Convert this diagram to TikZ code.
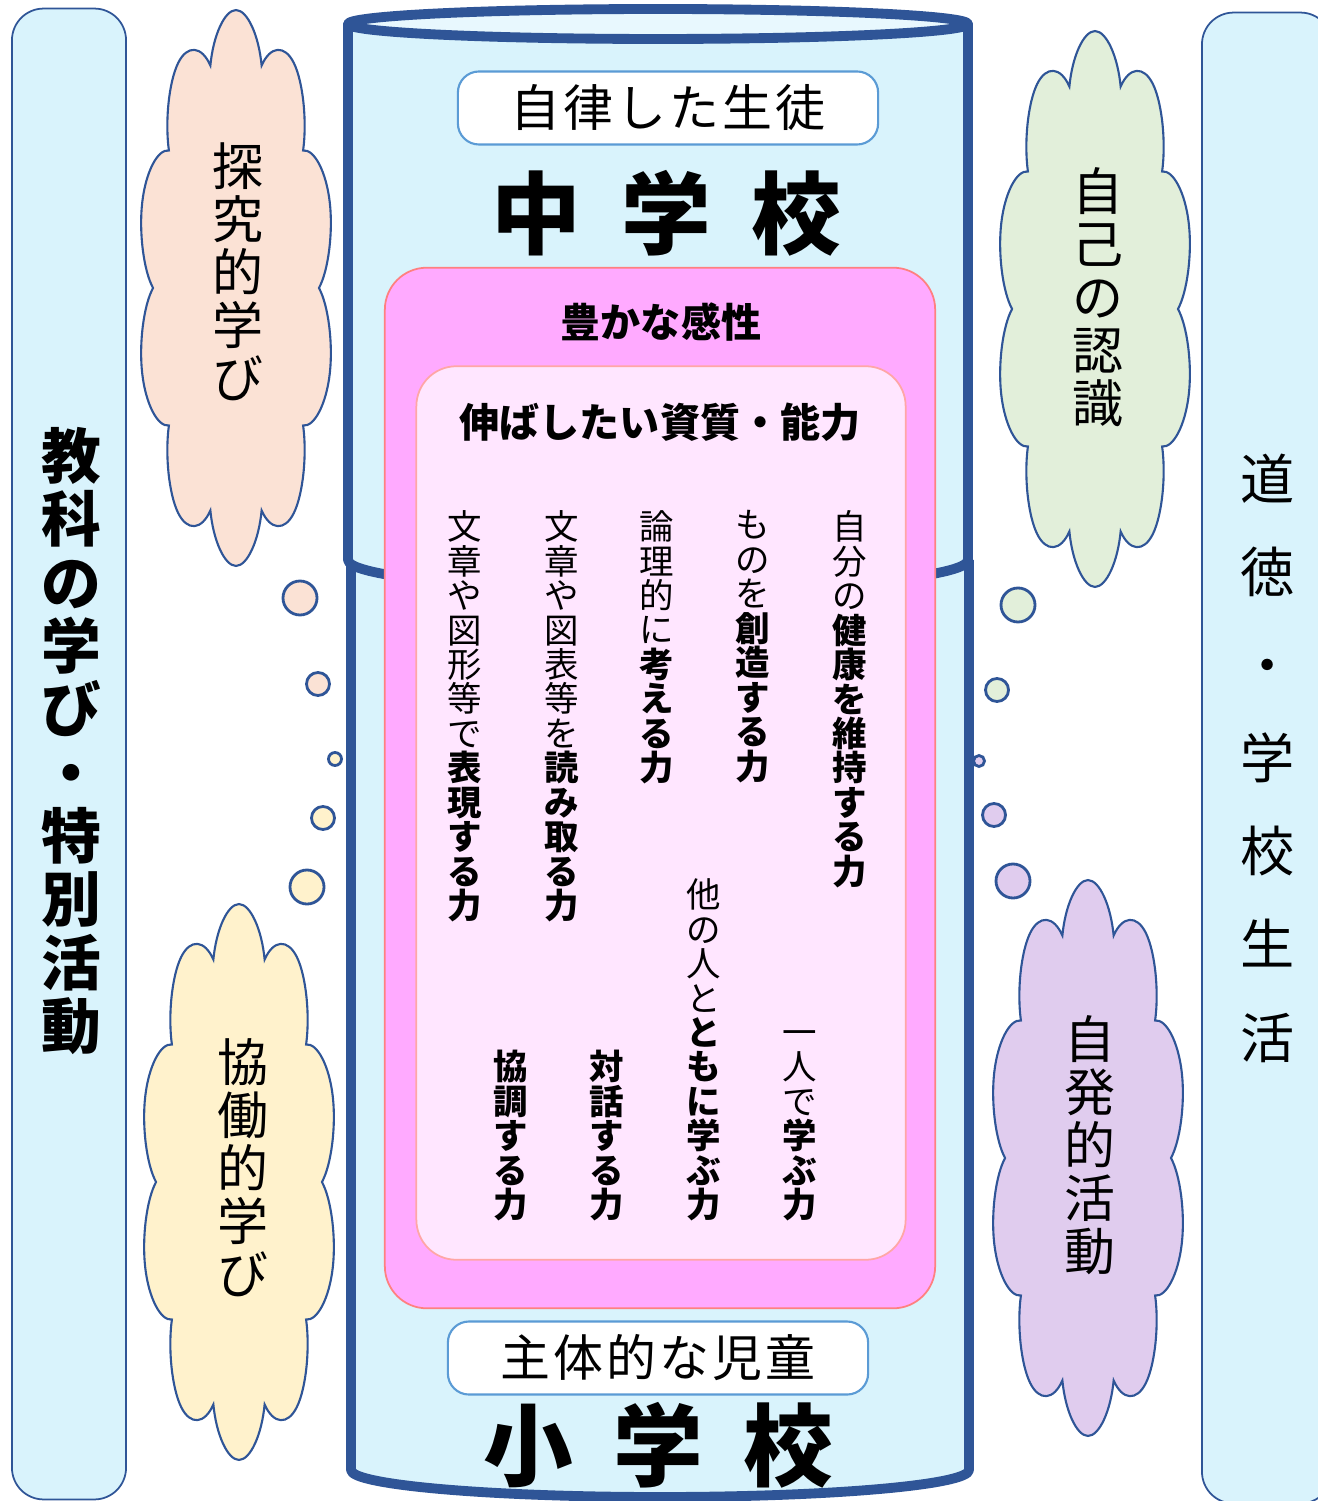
\documentclass[tikz,border=0pt]{standalone}
\usepackage{fontspec}
\setmainfont{Noto Sans CJK JP}
\usetikzlibrary{shapes.symbols}
\usetikzlibrary{positioning}

\definecolor{cylblue}{RGB}{47,85,151}
\definecolor{cylfill}{RGB}{217,243,252}
\definecolor{cyltop}{RGB}{232,248,254}
\definecolor{kansei}{RGB}{255,170,255}
\definecolor{kanseiline}{RGB}{255,128,128}
\definecolor{shishitsu}{RGB}{255,230,255}
\definecolor{tagline}{RGB}{91,155,213}
\definecolor{peach}{RGB}{251,226,213}
\definecolor{cream}{RGB}{255,242,204}
\definecolor{mint}{RGB}{226,239,218}
\definecolor{lavender}{RGB}{224,204,238}

% one character per line, \bfseries may be switched on in between
\makeatletter
\newcommand\tate[2][1em]{\vbox{\baselineskip=#1\lineskiplimit=-\maxdimen\lineskip=0pt\expandafter\tate@#2\@nil}}
\def\tate@#1{\ifx#1\@nil\else\ifx#1\bfseries\bfseries\else\hbox to 1em{\hss#1\hss}\fi\expandafter\tate@\fi}
\makeatother

\tikzstyle{bar}=[draw=cylblue,fill=cylfill,line width=0.5pt,rounded corners=9pt,minimum width=1.14cm,minimum height=14.9cm,inner sep=0pt]
\tikzstyle{cylline}=[draw=cylblue,line width=2.8pt,line join=round]
\tikzstyle{tag}=[draw=tagline,fill=white,rounded corners=6pt,line width=0.6pt,minimum width=4.2cm,minimum height=0.73cm,inner sep=0pt,font=\fontsize{14.2pt}{16pt}\selectfont]
\tikzstyle{school}=[inner sep=0pt,font=\fontsize{25.5pt}{30pt}\selectfont\bfseries]
\tikzstyle{heading}=[inner sep=0pt,font=\fontsize{11.4pt}{14pt}\selectfont\bfseries]
\tikzstyle{column}=[inner sep=0pt,font=\fontsize{9.8pt}{12pt}\selectfont]
\tikzstyle{thought}=[cloud,cloud puffs=10,cloud ignores aspect,draw=cylblue,line width=0.6pt,minimum width=1.97cm,minimum height=1.97cm,inner sep=0pt]
\tikzstyle{thoughttext}=[inner sep=0pt,font=\fontsize{14.5pt}{16pt}\selectfont]
\tikzstyle{bubble}=[circle,draw=cylblue,line width=0.8pt,inner sep=0pt]

\begin{document}
\begin{tikzpicture}[x=0.01cm,y=-0.01cm]
  \useasboundingbox (0,0) rectangle (1317,1501);

  % side bars
  \node[bar] (kyoka) at (69,754) {};
  \node[inner sep=0pt,font=\fontsize{17pt}{20pt}\selectfont\bfseries] (kyokatext) at (71,741) {\tate[18pt]{教科の学び・特別活動}};
  \node[bar,minimum width=1.3cm] (dotoku) at (1267,758) {};
  \node[inner sep=0pt,font=\fontsize{15.4pt}{18pt}\selectfont] (dotokutext) at (1268,758) {\tate[26.5pt]{道徳・学校生活}};

  % lower cylinder
  \fill[cylfill] (351,560) -- (351,1470) arc[start angle=180,end angle=0,x radius=309,y radius=27] -- (969,560) -- cycle;
  \draw[cylline] (351,560) -- (351,1470) arc[start angle=180,end angle=0,x radius=309,y radius=27] -- (969,560);

  % upper cylinder
  \filldraw[cylline,fill=cylfill] (348,24) -- (348,560) arc[start angle=180,end angle=0,x radius=310,y radius=30] -- (968,24) -- cycle;
  \filldraw[cylline,fill=cyltop] (658,24) ellipse[x radius=310,y radius=15];

  \node[tag] (jiritsu) at (668,108) {\addfontfeature{LetterSpace=6}自律した生徒};
  \node[school] (chugaku) at (666,213) {中\hspace{.45em}学\hspace{.45em}校};

  \node[draw=kanseiline,fill=kansei,rounded corners=0.42cm,line width=0.5pt,minimum width=5.5cm,minimum height=10.4cm] (kanseibox) at (660,788) {};
  \node[draw=kanseiline!70,fill=shishitsu,rounded corners=0.4cm,line width=0.5pt,minimum width=4.89cm,minimum height=8.93cm] (shishitsubox) at (661,813) {};
  \node[heading] (kansei) at (661,322) {豊かな感性};
  \node[heading] (nobashitai) at (660,422) {伸ばしたい資質・能力};

  \foreach \x/\name/\txt in {850/kenko/{自分の\bfseries 健康を維持する力}, 753/sozo/{ものを\bfseries 創造する力},
      657/ronri/{論理的に\bfseries 考える力}, 562/yomitori/{文章や図表等を\bfseries 読み取る力},
      465/hyogen/{文章や図形等で\bfseries 表現する力}}
    \node[column,anchor=north] (\name) at (\x,510) {\tate{\txt}};

  \foreach \x/\name/\txt in {800/hitori/{一人で\bfseries 学ぶ力}, 704/tomoni/{他の人と\bfseries ともに学ぶ力},
      607/taiwa/{\bfseries 対話する力}, 511/kyocho/{\bfseries 協調する力}}
    \node[column,anchor=south] (\name) at (\x,1222) {\tate{\txt}};

  \node[tag] (shutai) at (658,1358) {\addfontfeature{LetterSpace=6}主体的な児童};
  \node[school] (shogaku) at (658,1445) {小\hspace{.45em}学\hspace{.45em}校};

  % clouds, stretched upright
  \foreach \cx/\cy/\col/\name in {236/288/peach/tankyu, 239/1182/cream/kyodo,
      1095/309/mint/jiko, 1088/1158/lavender/jihatsu}{
    \begin{scope}[shift={(\cx,\cy)},yscale=2.82]
      \node[thought,fill=\col,transform shape] (\name) at (0,0) {};
    \end{scope}
  }

  \node[thoughttext] (tankyutext) at (238,272) {\tate[1.04em]{探究的学び}};
  \node[thoughttext] (kyodotext) at (243,1168) {\tate[1.04em]{協働的学び}};
  \node[thoughttext] (jikotext) at (1098,297) {\tate[1.04em]{自己の認識}};
  \node[thoughttext] (jihatsutext) at (1090,1145) {\tate[1.04em]{自発的活動}};

  \foreach \pos/\d/\col/\name in {{(300,598)/0.34cm/peach/bl1}, {(318,684)/0.23cm/peach/bl2},
      {(335,759)/0.13cm/cream/bl3}, {(323,818)/0.23cm/cream/bl4}, {(307,887)/0.34cm/cream/bl5},
      {(1018,605)/0.34cm/mint/br1}, {(997,690)/0.23cm/mint/br2}, {(979,761)/0.11cm/lavender/br3},
      {(994,815)/0.23cm/lavender/br4}, {(1013,881)/0.34cm/lavender/br5}}
    \node[bubble,fill=\col,minimum size=\d] (\name) at \pos {};

\end{tikzpicture}
\end{document}
